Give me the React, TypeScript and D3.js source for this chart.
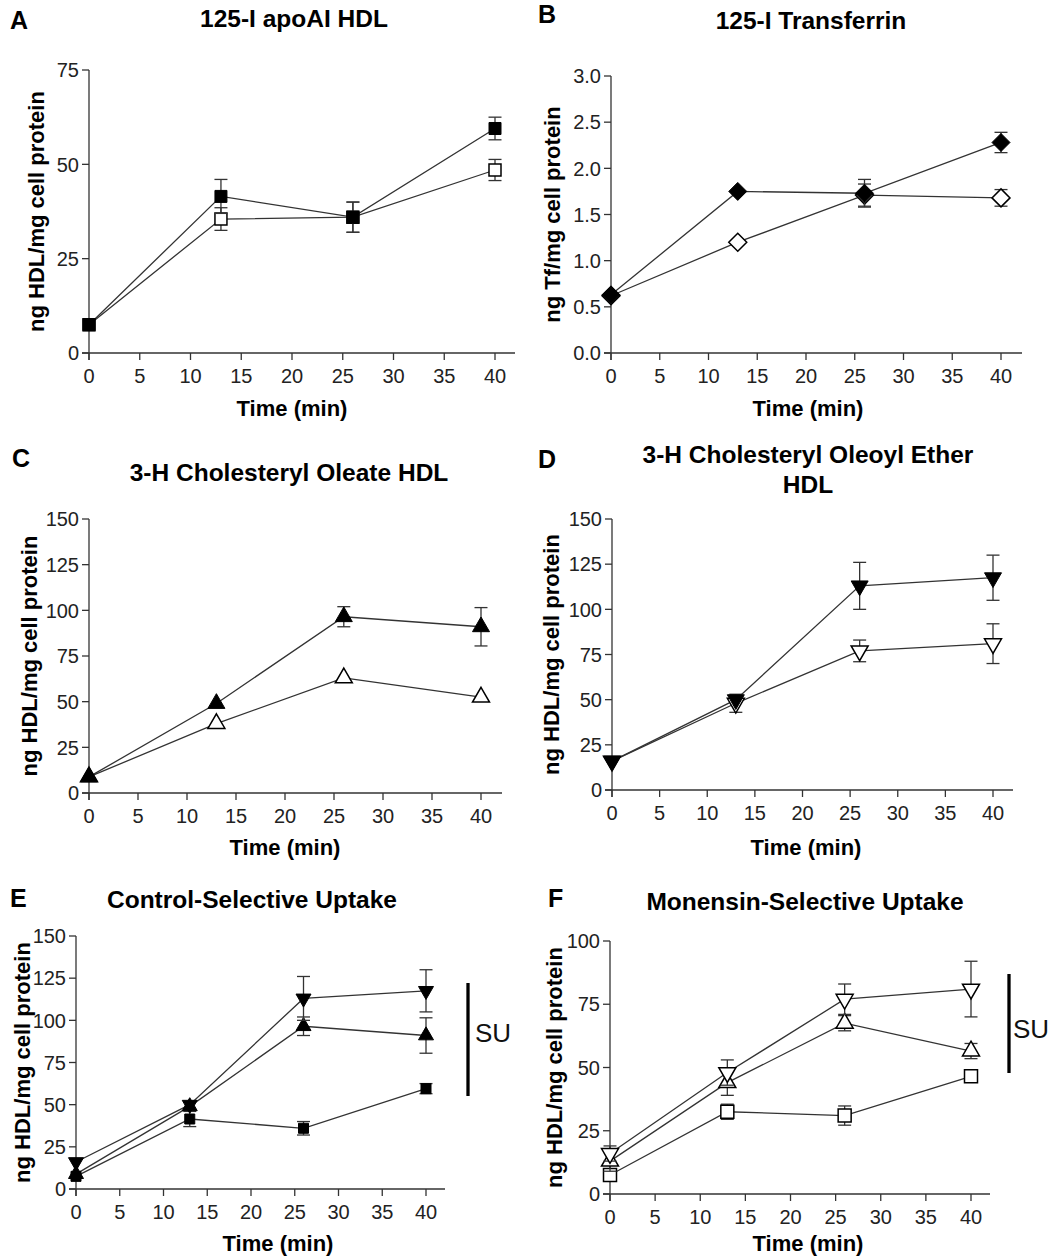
import React from 'react';
import * as d3 from 'd3';

// sampling times (min)
const times = [0, 13, 26, 40];
const xTickValues = [0, 5, 10, 15, 20, 25, 30, 35, 40];

// y tick labels
const ticks75 = [0, 25, 50, 75];
const ticksTf = [0, 0.5, 1.0, 1.5, 2.0, 2.5, 3.0];
const ticks150 = [0, 25, 50, 75, 100, 125, 150];
const ticks100 = [0, 25, 50, 75, 100];

// A: 125-I apoAI HDL
const apoFilled = [7.5, 41.5, 36, 59.5];
const apoFilledErr = [0, 4.5, 4, 3];
const apoOpen = [7.5, 35.5, 36, 48.5];
const apoOpenErr = [0, 3, 4, 2.8];

// B: 125-I Transferrin
const tfFilled = [0.63, 1.75, 1.73, 2.28];
const tfFilledErr = [0, 0, 0.15, 0.11];
const tfOpen = [0.62, 1.2, 1.71, 1.68];
const tfOpenErr = [0, 0, 0.12, 0.09];

// C: 3-H cholesteryl oleate HDL
const coFilled = [8.8, 49, 96.5, 91];
const coFilledErr = [0, 0, 5.5, 10.5];
const coOpen = [8.8, 38, 63, 52.5];
const coOpenErr = [0, 0, 0, 0];

// D: 3-H cholesteryl oleoyl ether HDL
const ceFilled = [16, 50, 113, 117.5];
const ceFilledErr = [0, 0, 13, 12.5];
const ceOpen = [16, 48, 77, 81];
const ceOpenErr = [0, 5, 6, 11];

// F: monensin
const monTri = [13, 44, 67.5, 56.5];
const monTriErr = [4, 5, 3, 3];
const monSq = [7.5, 32.5, 31, 46.5];
const monSqErr = [0, 3, 3.8, 2];
const monDown = [16, 48, 77, 81];
const monDownErr = [3, 5, 6, 11];

const FONT = '"Liberation Sans", Arial, Helvetica, sans-serif';
const INK = '#222';

function markerPath(kind, size) {
  if (kind === 'square') return d3.symbol(d3.symbolSquare, size * size)();
  if (kind === 'diamond') {
    const h = size / 2;
    return `M0,${-h}L${h},0L0,${h}L${-h},0Z`;
  }
  // triangles, size = side length
  return d3.symbol(d3.symbolTriangle, (Math.sqrt(3) / 4) * size * size)();
}

const panels = [
  {
    letter: 'A', letterX: 10, letterY: 29,
    title: ['125-I apoAI HDL'], titleX: 294, titleY: 27,
    x0: 89, x1: 495, axisEnd: 515, yTop: 70, yBot: 353, yMax: 75, yTicks: ticks75, fmt: d3.format('d'),
    yLabel: 'ng HDL/mg cell protein', yLabelX: 44, xLabelX: 292, xLabelY: 416,
    series: [
      { v: apoOpen, e: apoOpenErr, kind: 'square', filled: false, size: 12 },
      { v: apoFilled, e: apoFilledErr, kind: 'square', filled: true, size: 12 },
    ],
  },
  {
    letter: 'B', letterX: 538, letterY: 23,
    title: ['125-I Transferrin'], titleX: 811, titleY: 29,
    x0: 611, x1: 1001, axisEnd: 1022, yTop: 76, yBot: 353, yMax: 3, yTicks: ticksTf, fmt: d3.format('.1f'),
    yLabel: 'ng Tf/mg cell protein', yLabelX: 560, xLabelX: 808, xLabelY: 416,
    series: [
      { v: tfOpen, e: tfOpenErr, kind: 'diamond', filled: false, size: 18 },
      { v: tfFilled, e: tfFilledErr, kind: 'diamond', filled: true, size: 18 },
    ],
  },
  {
    letter: 'C', letterX: 12, letterY: 467,
    title: ['3-H Cholesteryl Oleate HDL'], titleX: 289, titleY: 481,
    x0: 89, x1: 481, axisEnd: 502, yTop: 519, yBot: 793, yMax: 150, yTicks: ticks150, fmt: d3.format('d'),
    yLabel: 'ng HDL/mg cell protein', yLabelX: 37, xLabelX: 285, xLabelY: 855,
    series: [
      { v: coOpen, e: coOpenErr, kind: 'up', filled: false, size: 17 },
      { v: coFilled, e: coFilledErr, kind: 'up', filled: true, size: 17 },
    ],
  },
  {
    letter: 'D', letterX: 538, letterY: 468,
    title: ['3-H Cholesteryl Oleoyl Ether', 'HDL'], titleX: 808, titleY: 463,
    x0: 612, x1: 993, axisEnd: 1013, yTop: 519, yBot: 790, yMax: 150, yTicks: ticks150, fmt: d3.format('d'),
    yLabel: 'ng HDL/mg cell protein', yLabelX: 559, xLabelX: 806, xLabelY: 855,
    series: [
      { v: ceOpen, e: ceOpenErr, kind: 'down', filled: false, size: 17 },
      { v: ceFilled, e: ceFilledErr, kind: 'down', filled: true, size: 17 },
    ],
  },
  {
    letter: 'E', letterX: 10, letterY: 907,
    title: ['Control-Selective Uptake'], titleX: 252, titleY: 908,
    x0: 76, x1: 426, axisEnd: 445, yTop: 936, yBot: 1189, yMax: 150, yTicks: ticks150, fmt: d3.format('d'),
    yLabel: 'ng HDL/mg cell protein', yLabelX: 30, xLabelX: 278, xLabelY: 1251,
    su: { x: 468, y1: 983, y2: 1096, tx: 475, ty: 1033 },
    series: [
      { v: apoFilled, e: apoFilledErr, kind: 'square', filled: true, size: 10 },
      { v: coFilled, e: coFilledErr, kind: 'up', filled: true, size: 15 },
      { v: ceFilled, e: ceFilledErr, kind: 'down', filled: true, size: 15 },
    ],
  },
  {
    letter: 'F', letterX: 548, letterY: 907,
    title: ['Monensin-Selective Uptake'], titleX: 805, titleY: 910,
    x0: 610, x1: 971, axisEnd: 990, yTop: 941, yBot: 1194, yMax: 100, yTicks: ticks100, fmt: d3.format('d'),
    yLabel: 'ng HDL/mg cell protein', yLabelX: 562, xLabelX: 808, xLabelY: 1251,
    su: { x: 1009, y1: 974, y2: 1073, tx: 1013, ty: 1029 },
    series: [
      { v: monSq, e: monSqErr, kind: 'square', filled: false, size: 13 },
      { v: monTri, e: monTriErr, kind: 'up', filled: false, size: 17 },
      { v: monDown, e: monDownErr, kind: 'down', filled: false, size: 17 },
    ],
  },
];

function Panel({ p }) {
  const x = d3.scaleLinear().domain([0, 40]).range([p.x0, p.x1]);
  const y = d3.scaleLinear().domain([0, p.yMax]).range([p.yBot, p.yTop]);
  const line = d3.line().x((_, i) => x(times[i])).y((d) => y(d));
  const tick = 7;
  const cap = 6.5;

  return (
    <g>
      <text x={p.letterX} y={p.letterY} fontSize={25} fontWeight="bold" fill="#000">{p.letter}</text>
      {p.title.map((t, i) => (
        <text key={i} x={p.titleX} y={p.titleY + i * 30} fontSize={24.5} fontWeight="bold" textAnchor="middle" fill="#000">{t}</text>
      ))}

      {/* axes */}
      <line x1={p.x0 - tick} x2={p.axisEnd} y1={p.yBot} y2={p.yBot} stroke="#333" strokeWidth={1.3} />
      <line x1={p.x0} x2={p.x0} y1={p.yTop} y2={p.yBot + tick} stroke="#333" strokeWidth={1.3} />
      {p.yTicks.map((t) => (
        <g key={'y' + t}>
          <line x1={p.x0 - tick} x2={p.x0} y1={y(t)} y2={y(t)} stroke="#333" strokeWidth={1.3} />
          <text x={p.x0 - 10} y={y(t)} dy="0.36em" textAnchor="end" fontSize={20} fill={INK}>{p.fmt(t)}</text>
        </g>
      ))}
      {xTickValues.map((t) => (
        <g key={'x' + t}>
          <line x1={x(t)} x2={x(t)} y1={p.yBot} y2={p.yBot + tick} stroke="#333" strokeWidth={1.3} />
          <text x={x(t)} y={p.yBot + 23} dy="0.36em" textAnchor="middle" fontSize={20} fill={INK}>{t}</text>
        </g>
      ))}
      <text x={p.xLabelX} y={p.xLabelY} textAnchor="middle" fontSize={22} fontWeight="bold" fill="#000">Time (min)</text>
      <text transform={`translate(${p.yLabelX},${(p.yTop + p.yBot) / 2}) rotate(-90)`} textAnchor="middle" fontSize={22} fontWeight="bold" fill="#000">{p.yLabel}</text>

      {/* series lines */}
      {p.series.map((s, si) => (
        <path key={'l' + si} d={line(s.v)} fill="none" stroke="#333" strokeWidth={1.3} />
      ))}
      {/* error bars and markers */}
      {p.series.map((s, si) => (
        <g key={'s' + si}>
          {s.v.map((v, i) => s.e[i] > 0 ? (
            <g key={i} stroke="#333" strokeWidth={1.3}>
              <line x1={x(times[i])} x2={x(times[i])} y1={y(v - s.e[i])} y2={y(v + s.e[i])} />
              <line x1={x(times[i]) - cap} x2={x(times[i]) + cap} y1={y(v + s.e[i])} y2={y(v + s.e[i])} />
              <line x1={x(times[i]) - cap} x2={x(times[i]) + cap} y1={y(v - s.e[i])} y2={y(v - s.e[i])} />
            </g>
          ) : null)}
          {s.v.map((v, i) => (
            <path
              key={'m' + i}
              d={markerPath(s.kind, s.size)}
              transform={`translate(${x(times[i])},${y(v)})${s.kind === 'down' ? ' rotate(180)' : ''}`}
              fill={s.filled ? '#000' : '#fff'}
              stroke="#000"
              strokeWidth={s.filled ? 1 : 1.5}
            />
          ))}
        </g>
      ))}

      {p.su && (
        <g>
          <line x1={p.su.x} x2={p.su.x} y1={p.su.y1} y2={p.su.y2} stroke="#000" strokeWidth={3.3} />
          <text x={p.su.tx} y={p.su.ty} dy="0.36em" fontSize={26} fill="#111">SU</text>
        </g>
      )}
    </g>
  );
}

export default function App() {
  return (
    <svg
      width={1054}
      height={1257}
      style={{ position: 'absolute', left: 0, top: 0, background: '#fff' }}
      fontFamily={FONT}
    >
      <rect width={1054} height={1257} fill="#fff" />
      {panels.map((p) => (
        <Panel key={p.letter} p={p} />
      ))}
    </svg>
  );
}
